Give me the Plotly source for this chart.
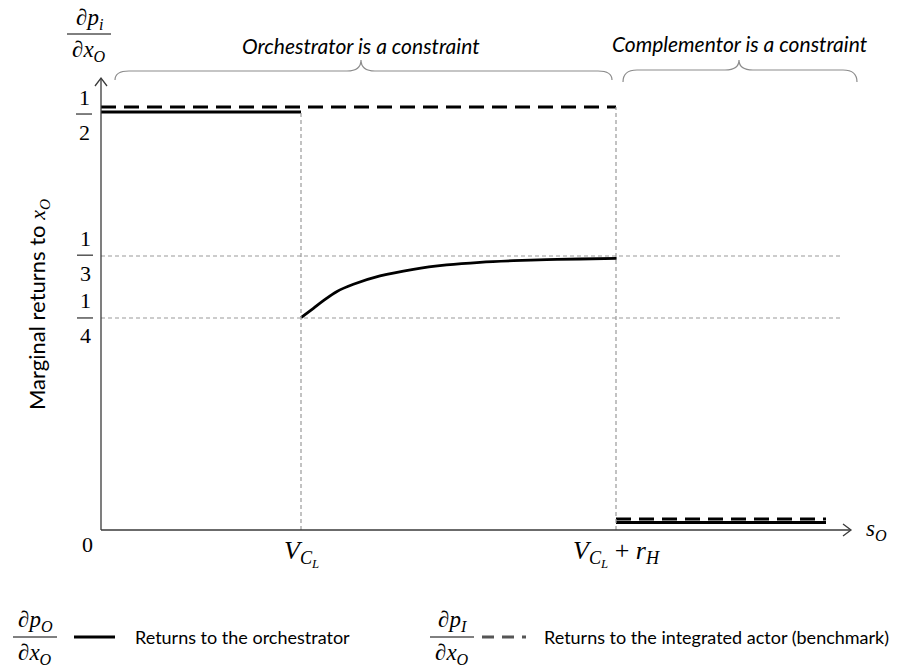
import plotly.graph_objects as go

W, H = 897, 668
# ---- data (conceptual chart, values in drawing units: V_CL = 1) ----
x_marks = [0.0, 1.0, 2.575]            # 0, V_CL, V_CL + r_H
x_end = 3.625                          # end of drawn segment after V_CL + r_H
grid_x_end = 3.71
y_half_pos = 0.4952                    # position of tick "1/2"
y_third = 0.3262                       # 1/3
y_quarter = 0.2524                     # 1/4

orch_high_x = [0.0, 1.0]
orch_high_y = [0.4976, 0.4976]
orch_curve_x = [1.0, 1.062, 1.112, 1.178, 1.262, 1.395, 1.562, 1.728, 1.895, 2.062, 2.228, 2.395, 2.578]
orch_curve_y = [0.2527, 0.2639, 0.2730, 0.2837, 0.2925, 0.3024, 0.3103, 0.3155, 0.3187, 0.3206, 0.3218, 0.3226, 0.3234]
orch_low_x = [2.575, 3.625]
orch_low_y = [0.0089, 0.0089]

bench_high_x = [0.0, 2.575]
bench_high_y = [0.5036, 0.5036]
bench_low_x = [2.575, 3.625]
bench_low_y = [0.0131, 0.0131]

# ---- pixel <-> data helpers (plot area spans whole page) ----
X0_PX, X_UNIT = 101, 200
Y0_PX, Y_UNIT = 530, 840
def xd(px): return (px - X0_PX) / X_UNIT
def yd(py): return (Y0_PX - py) / Y_UNIT

SERIF = "Liberation Serif"
SANS = "Lato"
GRID = "#9a9a9a"
AX = "#3a3a3a"

fig = go.Figure()
shapes = []
ann = []

# gridlines
for yv in [y_third, y_quarter]:
    shapes.append(dict(type="line", x0=0, x1=grid_x_end, y0=yv, y1=yv,
                       line=dict(color=GRID, width=1.2, dash="4px,3px")))
shapes.append(dict(type="line", x0=x_marks[1], x1=x_marks[1], y0=0, y1=orch_high_y[0],
                   line=dict(color=GRID, width=1.2, dash="4px,3px")))
shapes.append(dict(type="line", x0=x_marks[2], x1=x_marks[2], y0=0, y1=bench_high_y[0],
                   line=dict(color=GRID, width=1.2, dash="4px,3px")))

# axes with open arrowheads
shapes.append(dict(type="line", x0=0, x1=0, y0=0, y1=yd(79), line=dict(color=AX, width=1.3)))
shapes.append(dict(type="line", x0=0, x1=xd(850), y0=0, y1=0, line=dict(color=AX, width=1.3)))
shapes.append(dict(type="path", path=f"M {xd(95)},{yd(86)} L {xd(101)},{yd(78)} L {xd(107)},{yd(86)}",
                   line=dict(color=AX, width=1.3)))
shapes.append(dict(type="path", path=f"M {xd(843)},{yd(524)} L {xd(851)},{yd(530)} L {xd(843)},{yd(536)}",
                   line=dict(color=AX, width=1.3)))

# series
DASH = "15px,8px"
for xs, ys in [(bench_high_x, bench_high_y), (bench_low_x, bench_low_y)]:
    fig.add_trace(go.Scatter(x=xs, y=ys, mode="lines",
                             line=dict(color="black", width=3, dash=DASH), hoverinfo="skip"))
for xs, ys in [(orch_high_x, orch_high_y), (orch_curve_x, orch_curve_y), (orch_low_x, orch_low_y)]:
    fig.add_trace(go.Scatter(x=xs, y=ys, mode="lines", line_shape="spline",
                             line=dict(color="black", width=2.8), hoverinfo="skip"))

# braces
def brace(x0p, x1p, xmp, yf, ye, yt, r=14):
    return (f"M {xd(x0p)},{yd(ye)} Q {xd(x0p)},{yd(yf)} {xd(x0p+r)},{yd(yf)} "
            f"L {xd(xmp-r)},{yd(yf)} Q {xd(xmp)},{yd(yf)} {xd(xmp)},{yd(yt)} "
            f"Q {xd(xmp)},{yd(yf)} {xd(xmp+r)},{yd(yf)} "
            f"L {xd(x1p-r)},{yd(yf)} Q {xd(x1p)},{yd(yf)} {xd(x1p)},{yd(ye)}")
shapes.append(dict(type="path", path=brace(115, 612, 361, 71, 80, 60), line=dict(color="#8c8c8c", width=1.2)))
shapes.append(dict(type="path", path=brace(623, 857, 739, 70, 82, 60), line=dict(color="#8c8c8c", width=1.2)))
ann.append(dict(x=xd(361), y=yd(45), text="<i>Orchestrator is a constraint</i>", showarrow=False,
                font=dict(family=SANS, size=21, color="black")))
ann.append(dict(x=xd(740), y=yd(43), text="<i>Complementor is a constraint</i>", showarrow=False,
                font=dict(family=SANS, size=21, color="black")))

# fractions
def frac(xc_px, ybar, num, den, half_w, size=22, up=17, down=18):
    shapes.append(dict(type="line", x0=xd(xc_px - half_w), x1=xd(xc_px + half_w), y0=ybar, y1=ybar,
                       line=dict(color="black", width=1)))
    ann.append(dict(x=xd(xc_px), y=ybar, yshift=up, text=num, showarrow=False,
                    font=dict(family=SERIF, size=size, color="black")))
    ann.append(dict(x=xd(xc_px), y=ybar, yshift=-down, text=den, showarrow=False,
                    font=dict(family=SERIF, size=size, color="black")))

frac(84, y_half_pos, "1", "2", 8)
frac(85, y_third + 0.001, "1", "3", 8)
frac(85, y_quarter, "1", "4", 8)
frac(89, yd(34), "∂<i>p<sub>i</sub></i>", "∂<i>x<sub>O</sub></i>", 22, size=23, up=15, down=17)

# x tick labels
ann.append(dict(x=xd(87), y=yd(544), text="0", showarrow=False, font=dict(family=SERIF, size=22, color="black")))
ann.append(dict(x=x_marks[1], y=yd(553), text="<i>V<sub>C<sub>L</sub></sub></i>", showarrow=False,
                font=dict(family=SERIF, size=26, color="black")))
ann.append(dict(x=x_marks[2], y=yd(553),
                text="<i>V<sub>C<sub>L</sub></sub></i> + <i>r<sub>H</sub></i>", showarrow=False,
                font=dict(family=SERIF, size=26, color="black")))
ann.append(dict(x=xd(876), y=yd(530), text="<i>s<sub>O</sub></i>", showarrow=False,
                font=dict(family=SERIF, size=23, color="black")))

# y title
ann.append(dict(x=xd(38), y=yd(305), textangle=-90, showarrow=False,
                text="Marginal returns to <span style='font-family:Liberation Serif'><i>x<sub>O</sub></i></span>",
                font=dict(family=SANS, size=22, color="black")))

# legend
LY = yd(637)
frac(35, LY, "∂<i>p<sub>O</sub></i>", "∂<i>x<sub>O</sub></i>", 22, size=23, up=16, down=17)
shapes.append(dict(type="line", x0=xd(74), x1=xd(115), y0=LY, y1=LY, line=dict(color="black", width=3)))
ann.append(dict(x=xd(133), y=LY, xanchor="left", text="Returns to the orchestrator", showarrow=False,
                font=dict(family=SANS, size=18, color="black")))
frac(452, LY, "∂<i>p<sub>I</sub></i>", "∂<i>x<sub>O</sub></i>", 22, size=23, up=16, down=17)
shapes.append(dict(type="line", x0=xd(482), x1=xd(526), y0=LY, y1=LY,
                   line=dict(color="#555555", width=3, dash="12px,8px")))
ann.append(dict(x=xd(542), y=LY, xanchor="left", text="Returns to the integrated actor (benchmark)", showarrow=False,
                font=dict(family=SANS, size=18, color="black")))

fig.update_layout(
    width=W, height=H, margin=dict(l=0, r=0, t=0, b=0),
    paper_bgcolor="white", plot_bgcolor="white", showlegend=False,
    xaxis=dict(range=[xd(0), xd(W)], visible=False, fixedrange=True),
    yaxis=dict(range=[yd(H), yd(0)], visible=False, fixedrange=True),
    shapes=shapes, annotations=ann,
)
fig.write_html("out.html")
